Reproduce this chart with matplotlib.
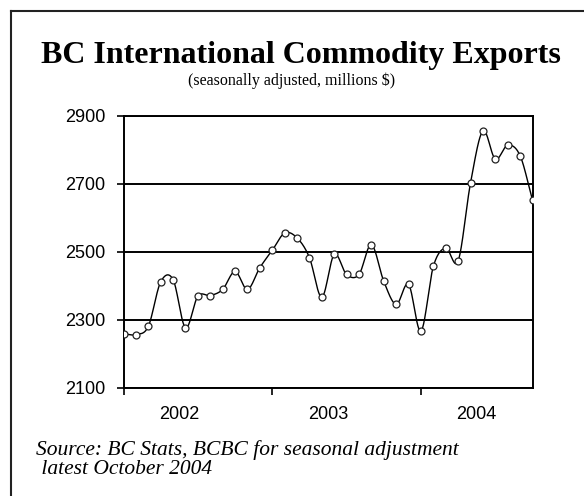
import numpy as np
import matplotlib
matplotlib.use('Agg')
import matplotlib.pyplot as plt
from matplotlib.lines import Line2D

# monthly values, Jan 2002 .. Oct 2004
exports = [2258, 2256, 2280, 2411, 2418, 2276, 2369, 2371, 2389, 2442,
           2389, 2453, 2504, 2555, 2541, 2483, 2366, 2492, 2433, 2433,
           2521, 2413, 2345, 2404, 2266, 2457, 2511, 2473, 2703, 2856,
           2773, 2814, 2783, 2652]
months = np.arange(len(exports))
years = ['2002', '2003', '2004']
year_start = [0, 12, 24]
y_ticks = [2100, 2300, 2500, 2700, 2900]

serif = 'Liberation Serif'
sans = 'Liberation Sans'


def smooth(x, y, n=24):
    # catmull-rom, same idea as excel's "smoothed line"
    x = np.asarray(x, float)
    y = np.asarray(y, float)
    px = np.concatenate([[2 * x[0] - x[1]], x, [2 * x[-1] - x[-2]]])
    py = np.concatenate([[2 * y[0] - y[1]], y, [2 * y[-1] - y[-2]]])
    t = np.linspace(0, 1, n, endpoint=False)
    xs, ys = [], []
    for i in range(len(x) - 1):
        for p, out in ((px, xs), (py, ys)):
            p0, p1, p2, p3 = p[i:i + 4]
            out.append(0.5 * (2 * p1 + (-p0 + p2) * t
                              + (2 * p0 - 5 * p1 + 4 * p2 - p3) * t ** 2
                              + (-p0 + 3 * p1 - 3 * p2 + p3) * t ** 3))
    xs.append([x[-1]])
    ys.append([y[-1]])
    return np.concatenate(xs), np.concatenate(ys)


fig = plt.figure(figsize=(5.84, 4.96), dpi=100)
ax = fig.add_axes([123.5 / 584, 1 - 387.5 / 496, 409 / 584, 271.5 / 496])

sx, sy = smooth(months, exports)
ax.plot(sx, sy, color='black', lw=1.0, zorder=3)
ax.plot(months, exports, 'o', ms=5, mfc='white', mec='#222222', mew=0.9, zorder=4)

ax.set_xlim(0, 33)
ax.set_ylim(2100, 2900)
ax.set_yticks(y_ticks)
ax.set_yticklabels([str(v) for v in y_ticks], fontsize=13, family=sans)
ax.yaxis.grid(True, color='black', lw=1.4)
ax.set_axisbelow(True)
ax.tick_params(axis='y', direction='out', length=5, width=1.2, pad=8)

ax.set_xticks(year_start)
ax.set_xticklabels([])
ax.tick_params(axis='x', which='major', direction='out', length=5, width=1.2)
ax.set_xticks([s + 4.5 for s in year_start], minor=True)
ax.set_xticklabels(years, minor=True, fontsize=13, family=sans)
ax.tick_params(axis='x', which='minor', length=0, pad=13)

for s in ax.spines.values():
    s.set_linewidth(1.4)
    s.set_color('black')

fig.text(301 / 584, 1 - 63 / 496, 'BC International Commodity Exports',
         ha='center', va='baseline', fontsize=23, fontweight='bold', family=serif)
fig.text(292 / 584, 1 - 81 / 496, '(seasonally adjusted, millions $)',
         ha='center', va='center', fontsize=11.5, family=serif)

fig.text(36 / 584, 1 - 450 / 496, 'Source: BC Stats, BCBC for seasonal adjustment',
         ha='left', va='center', fontsize=15.5, style='italic', family=serif)
fig.text(36 / 584, 1 - 469 / 496, ' latest October 2004',
         ha='left', va='center', fontsize=15.5, style='italic', family=serif)

# outer frame (only top and left edges are inside the picture)
fig.add_artist(Line2D([11 / 584, 1], [1 - 11 / 496] * 2, transform=fig.transFigure,
                      color='#222222', lw=1.5))
fig.add_artist(Line2D([11 / 584] * 2, [0, 1 - 11 / 496], transform=fig.transFigure,
                      color='#222222', lw=1.5))

fig.savefig('out.png', dpi=100)
